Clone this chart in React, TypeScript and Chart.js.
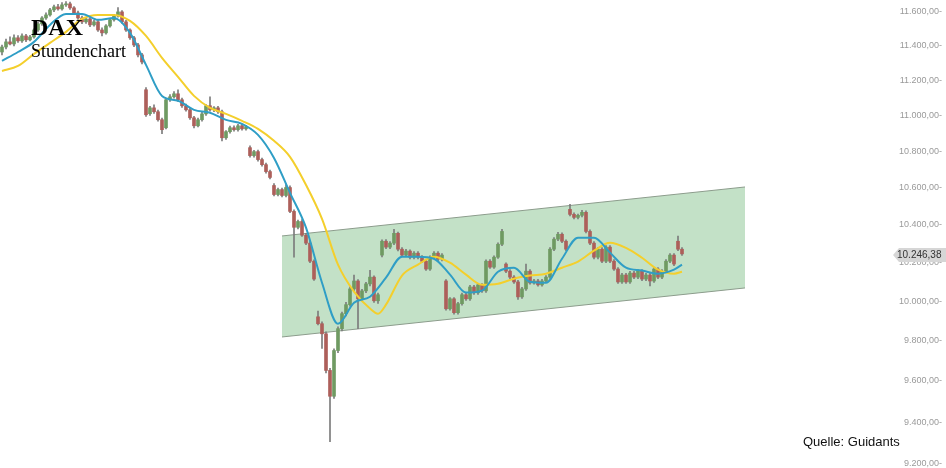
import React, { useEffect, useRef } from "react";
import { Chart, registerables } from "chart.js";

Chart.register(...registerables);

// ---- hourly DAX candles (index = hour) ----
const opens = [
  11364, 11393, 11423, 11411, 11447, 11429, 11458, 11435, 11452, 11493,
  11529, 11564, 11582, 11612, 11630, 11618, 11642, 11648, 11624, 11594,
  11564, 11541, 11558, 11523, 11541, 11493, 11476, 11517, 11553, 11576,
  11600, 11541, 11493, 11447, 11405, 11347, 11146, 11010, 11043, 11021,
  10976, 10931, 11089, 11106, 11123, 11089, 11055, 11032, 10987, 10942,
  10976, 11009, 11055, 11032, 11043, 11021, 10875, 10909, 10931, 10920,
  10942, 10925, 10820, 10776, 10798, 10754, 10726, 10688, 10612, 10563,
  10590, 10558, 10601, 10472, 10387, 10418, 10345, 10303, 10208, 9921,
  9886, 9835, 9652, 9525, 9751, 9861, 9937, 9983, 10064, 10105,
  10013, 10054, 10090, 10125, 10003, 10240, 10313, 10282, 10303, 10355,
  10271, 10240, 10261, 10229, 10250, 10229, 10208, 10167, 10229, 10250,
  10219, 10105, 9962, 10013, 9942, 9988, 10034, 10013, 10074, 10044,
  10085, 10054, 10208, 10177, 10229, 10297, 10193, 10156, 10125, 10100,
  10023, 10064, 10156, 10095, 10105, 10085, 10105, 10125, 10271, 10324,
  10350, 10313, 10483, 10456, 10440, 10451, 10467, 10365, 10303, 10229,
  10271, 10208, 10282, 10208, 10167, 10100, 10136, 10100, 10146, 10125,
  10156, 10115, 10136, 10105, 10167, 10125, 10156, 10208, 10240, 10313,
  10271,
];
const highs = [
  11405, 11440, 11452, 11464, 11460, 11470, 11468, 11462, 11500, 11540,
  11572, 11595, 11622, 11640, 11645, 11655, 11662, 11658, 11632, 11605,
  11575, 11568, 11566, 11552, 11550, 11505, 11525, 11560, 11585, 11625,
  11608, 11550, 11500, 11455, 11415, 11356, 11158, 11052, 11060, 11030,
  10985, 11095, 11118, 11135, 11146, 11098, 11065, 11040, 10995, 10985,
  11018, 11062, 11106, 11050, 11052, 11030, 10915, 10940, 10942, 10950,
  10950, 10945, 10830, 10805, 10806, 10762, 10735, 10696, 10622, 10598,
  10598, 10617, 10610, 10480, 10425, 10428, 10355, 10312, 10215, 9950,
  9895, 9845, 9662, 9760, 9870, 9945, 9995, 10075, 10135, 10112,
  10062, 10098, 10160, 10132, 10042, 10320, 10322, 10311, 10376, 10362,
  10280, 10270, 10268, 10258, 10258, 10238, 10215, 10236, 10258, 10258,
  10248, 10112, 10020, 10020, 9995, 10042, 10042, 10082, 10082, 10092,
  10092, 10215, 10216, 10236, 10305, 10376, 10200, 10164, 10133, 10108,
  10072, 10193, 10164, 10113, 10113, 10113, 10133, 10279, 10332, 10360,
  10358, 10321, 10510, 10464, 10458, 10478, 10475, 10373, 10311, 10280,
  10280, 10290, 10290, 10216, 10175, 10145, 10145, 10155, 10155, 10164,
  10164, 10145, 10145, 10175, 10175, 10164, 10216, 10248, 10248, 10340,
  10280,
];
const lows = [
  11347, 11382, 11405, 11400, 11420, 11420, 11425, 11428, 11445, 11485,
  11520, 11555, 11575, 11602, 11610, 11610, 11632, 11615, 11585, 11555,
  11530, 11532, 11512, 11515, 11485, 11458, 11468, 11510, 11545, 11568,
  11532, 11485, 11438, 11395, 11335, 11295, 10995, 11000, 11012, 10968,
  10898, 10925, 11080, 11098, 11080, 11045, 11025, 10978, 10930, 10935,
  10968, 11000, 11025, 11022, 11012, 10858, 10866, 10900, 10912, 10912,
  10918, 10918, 10768, 10768, 10745, 10718, 10680, 10648, 10555, 10555,
  10550, 10550, 10465, 10229, 10378, 10338, 10295, 10200, 10108, 9880,
  9761, 9640, 9306, 9515, 9740, 9850, 9925, 9975, 10055, 9861,
  10005, 10045, 10080, 9995, 9990, 10230, 10274, 10274, 10295, 10262,
  10232, 10232, 10220, 10220, 10220, 10200, 10160, 10160, 10220, 10210,
  10210, 9955, 9955, 9935, 9935, 9980, 10005, 10005, 10036, 10036,
  10046, 10046, 10170, 10170, 10222, 10290, 10148, 10117, 10092, 10010,
  10015, 10056, 10088, 10088, 10078, 10078, 10098, 10118, 10263, 10316,
  10305, 10263, 10448, 10432, 10432, 10443, 10357, 10295, 10220, 10220,
  10200, 10200, 10200, 10160, 10092, 10092, 10092, 10092, 10117, 10117,
  10107, 10107, 10080, 10098, 10117, 10117, 10148, 10200, 10185, 10263,
  10238,
];
const closes = [
  11393, 11423, 11411, 11447, 11429, 11458, 11435, 11452, 11493, 11529,
  11564, 11582, 11612, 11630, 11618, 11642, 11648, 11624, 11594, 11564,
  11541, 11558, 11523, 11541, 11493, 11476, 11517, 11553, 11576, 11600,
  11541, 11493, 11447, 11405, 11347, 11306, 11004, 11043, 11021, 10976,
  10920, 11089, 11106, 11123, 11089, 11055, 11032, 10987, 10942, 10976,
  11009, 11055, 11032, 11043, 11021, 10875, 10909, 10931, 10920, 10942,
  10925, 10937, 10776, 10798, 10754, 10726, 10688, 10656, 10563, 10590,
  10558, 10601, 10472, 10387, 10418, 10345, 10303, 10208, 10115, 9886,
  9835, 9652, 9525, 9751, 9861, 9937, 9983, 10064, 10105, 10013,
  10054, 10090, 10125, 10003, 10034, 10313, 10282, 10303, 10355, 10271,
  10240, 10261, 10229, 10250, 10229, 10208, 10167, 10229, 10250, 10219,
  10240, 9962, 10013, 9942, 9988, 10034, 10013, 10074, 10044, 10085,
  10054, 10208, 10177, 10229, 10297, 10365, 10156, 10125, 10100, 10023,
  10064, 10156, 10095, 10105, 10085, 10105, 10125, 10271, 10324, 10350,
  10313, 10271, 10456, 10440, 10451, 10467, 10365, 10303, 10229, 10271,
  10208, 10282, 10208, 10167, 10100, 10136, 10100, 10146, 10125, 10156,
  10115, 10136, 10105, 10167, 10125, 10156, 10208, 10240, 10193, 10271,
  10246.38,
];

// ---- moving averages (sampled at candle indices) ----
const blueIdx = [
  0, 4, 8, 12, 16, 20, 24, 28, 32, 36, 40, 44, 48, 52, 56, 60, 64, 68, 72, 76, 80, 84,
  88, 92, 96, 100, 104, 108, 112, 116, 120, 124, 128, 132, 136, 140, 144, 148, 152,
  156, 160, 164, 168, 170,
];
const blueMA = [
  11312, 11364, 11423, 11523, 11588, 11588, 11553, 11564, 11476, 11289, 11111, 11083,
  11032, 11015, 10975, 10953, 10891, 10763, 10572, 10385, 10096, 9886, 9993, 10024,
  10122, 10232, 10232, 10221, 10138, 10045, 10055, 10153, 10174, 10101, 10096, 10221,
  10332, 10332, 10253, 10174, 10159, 10143, 10164, 10190,
];
const yellowIdx = [
  0, 4, 8, 12, 16, 20, 24, 28, 32, 36, 40, 44, 48, 52, 56, 60, 64, 68, 72, 76, 80, 84,
  88, 92, 94, 96, 100, 104, 108, 112, 116, 120, 124, 128, 132, 136, 140, 144, 148, 152,
  156, 160, 164, 168, 170,
];
const yellowMA = [
  11254, 11283, 11353, 11417, 11482, 11558, 11582, 11582, 11547, 11458, 11330, 11220,
  11111, 11043, 11009, 10970, 10925, 10858, 10769, 10615, 10432, 10190, 10050, 9963,
  9937, 9983, 10133, 10190, 10232, 10200, 10138, 10086, 10091, 10117, 10133, 10143,
  10174, 10206, 10263, 10305, 10278, 10226, 10164, 10143, 10153,
];

// ---- trend channel ----
const channelIdx = [70, 185.75];
const channelTop = [10341, 10604];
const channelBottom = [9819, 10069];

// ---- axis ----
const yTicks = [9200, 9400, 9600, 9800, 10000, 10200, 10400, 10600, 10800, 11000, 11200, 11400, 11600];
const yMin = 9181;
const yMax = 11671;
const xMin = -0.5;
const xMax = 222;

const fmtDE = (v: number) => {
  const [i, d] = v.toFixed(2).split(".");
  return i.replace(/\B(?=(\d{3})+(?!\d))/g, ".") + "," + d;
};

const RED = "#ad5f5a";
const GREEN = "#6f9a62";

export default function App() {
  const ref = useRef<HTMLCanvasElement | null>(null);

  useEffect(() => {
    document.body.style.margin = "0";
    const canvas = ref.current;
    if (!canvas) return;

    const bodies = opens.map((o, i) => ({ x: i, y: [Math.min(o, closes[i]), Math.max(o, closes[i])] }));
    const wicks = highs.map((h, i) => ({ x: i, y: [lows[i], h] }));
    const bodyColors = opens.map((o, i) => (closes[i] >= o ? GREEN : RED));
    const last = closes[closes.length - 1];

    const priceTag = {
      id: "priceTag",
      afterDraw(chart: any) {
        const ctx = chart.ctx;
        const y = chart.scales.y.getPixelForValue(last) + 1;
        const right = chart.width;
        ctx.save();
        ctx.fillStyle = "#d6d6d6";
        ctx.beginPath();
        ctx.moveTo(893, y);
        ctx.lineTo(899, y - 7);
        ctx.lineTo(right, y - 7);
        ctx.lineTo(right, y + 7);
        ctx.lineTo(899, y + 7);
        ctx.closePath();
        ctx.fill();
        ctx.fillStyle = "#333";
        ctx.font = "10px 'Liberation Sans', Arial, sans-serif";
        ctx.textBaseline = "middle";
        ctx.textAlign = "left";
        ctx.fillText(fmtDE(last), 897, y + 0.5);
        ctx.restore();
      },
    };

    const chart = new Chart(canvas, {
      type: "bar",
      data: {
        datasets: [
          {
            type: "line",
            data: blueIdx.map((x, k) => ({ x, y: blueMA[k] })),
            borderColor: "#2f9ec6",
            borderWidth: 2,
            pointRadius: 0,
            cubicInterpolationMode: "monotone",
            fill: false,
            order: 0,
          } as any,
          {
            type: "line",
            data: yellowIdx.map((x, k) => ({ x, y: yellowMA[k] })),
            borderColor: "#f4cf2c",
            borderWidth: 2,
            pointRadius: 0,
            cubicInterpolationMode: "monotone",
            fill: false,
            order: 1,
          } as any,
          {
            type: "bar",
            data: bodies,
            backgroundColor: bodyColors,
            borderWidth: 0,
            barThickness: 3,
            minBarLength: 1,
            grouped: false,
            order: 2,
          } as any,
          {
            type: "bar",
            data: wicks,
            backgroundColor: "#7c7c7c",
            borderWidth: 0,
            barThickness: 1,
            grouped: false,
            order: 3,
          } as any,
          {
            type: "line",
            data: channelIdx.map((x, k) => ({ x, y: channelBottom[k] })),
            borderColor: "#8c9c8c",
            borderWidth: 1,
            pointRadius: 0,
            tension: 0,
            fill: false,
            order: 4,
          } as any,
          {
            type: "line",
            data: channelIdx.map((x, k) => ({ x, y: channelTop[k] })),
            borderColor: "#8c9c8c",
            borderWidth: 1,
            pointRadius: 0,
            tension: 0,
            fill: { target: 4 },
            backgroundColor: "#c3e1c7",
            order: 5,
          } as any,
        ],
      },
      options: {
        responsive: false,
        animation: false,
        events: [],
        layout: { padding: { left: 0, top: 0, bottom: 0, right: 4 } },
        plugins: {
          legend: { display: false },
          tooltip: { enabled: false },
          title: { display: false },
        },
        scales: {
          x: {
            type: "linear",
            min: xMin,
            max: xMax,
            offset: false,
            display: false,
          },
          y: {
            type: "logarithmic",
            position: "right",
            min: yMin,
            max: yMax,
            grid: { display: false, drawTicks: false },
            border: { display: false },
            afterBuildTicks: (scale: any) => {
              scale.ticks = yTicks.map((v) => ({ value: v }));
            },
            afterFit: (scale: any) => {
              scale.width = 52;
              scale.paddingTop = 0;
              scale.paddingBottom = 0;
            },
            ticks: {
              autoSkip: false,
              crossAlign: "far",
              padding: 4,
              color: "#9a9a9a",
              font: { family: "'Liberation Sans', Arial, sans-serif", size: 9 },
              callback: (v: any) => fmtDE(Number(v)) + "-",
            },
          } as any,
        },
      } as any,
      plugins: [priceTag],
    });

    return () => chart.destroy();
  }, []);

  return (
    <div style={{ position: "relative", width: 946, height: 468, background: "#fff", overflow: "hidden" }}>
      <canvas ref={ref} width={946} height={468} style={{ position: "absolute", left: 0, top: 0, width: 946, height: 468 }} />
      <div
        style={{
          position: "absolute",
          left: 31,
          top: 15,
          fontFamily: "'Liberation Serif', 'Times New Roman', serif",
          fontWeight: "bold",
          fontSize: 24,
          lineHeight: "24px",
          color: "#000",
        }}
      >
        DAX
      </div>
      <div
        style={{
          position: "absolute",
          left: 31,
          top: 42,
          fontFamily: "'Liberation Serif', 'Times New Roman', serif",
          fontSize: 18,
          lineHeight: "18px",
          color: "#000",
        }}
      >
        Stundenchart
      </div>
      <div
        style={{
          position: "absolute",
          left: 803,
          top: 435,
          fontFamily: "'Liberation Sans', Arial, sans-serif",
          fontSize: 13,
          lineHeight: "13px",
          color: "#111",
        }}
      >
        Quelle: Guidants
      </div>
    </div>
  );
}
